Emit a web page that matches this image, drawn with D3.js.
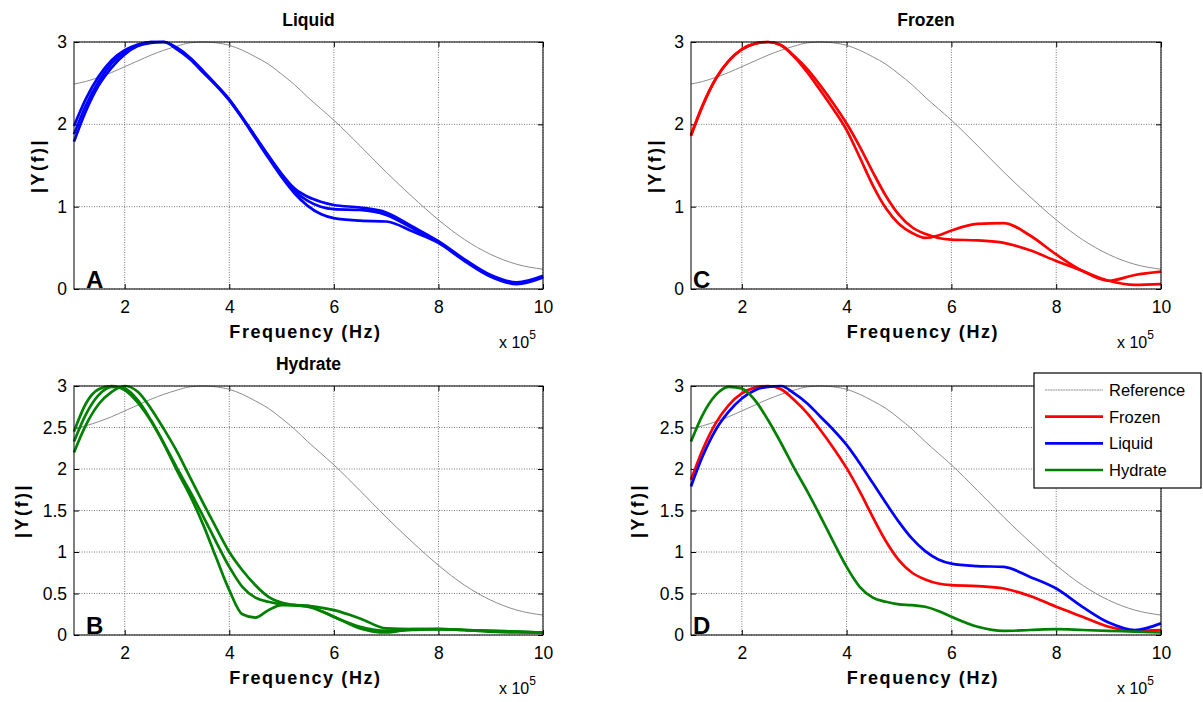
<!DOCTYPE html>
<html>
<head>
<meta charset="utf-8">
<script src="https://cdn.jsdelivr.net/npm/d3@7"></script>
<style>
  html, body { margin: 0; padding: 0; background: #fff; }
  svg { display: block; }
  text { font-family: Arial, "Liberation Sans", sans-serif; fill: #000; }
</style>
</head>
<body>
<svg id="chart" width="1203" height="702"></svg>
<script>
// ---------- data (frequency in units of 1e5 Hz) ----------
const freq = [1.03, 1.25, 1.5, 1.75, 2, 2.25, 2.5, 2.75, 3, 3.25, 3.5, 3.75, 4, 4.25, 4.5, 4.75, 5, 5.25, 5.5, 5.75, 6,
              6.5, 7, 7.5, 8, 8.5, 9, 9.5, 10];

const referenceCurve = [2.49, 2.52, 2.57, 2.63, 2.7, 2.77, 2.84, 2.9, 2.95, 2.99, 3.0, 2.99, 2.96, 2.9, 2.82, 2.73, 2.61, 2.48, 2.33, 2.19, 2.05,
                        1.74, 1.42, 1.12, 0.84, 0.6, 0.42, 0.3, 0.24];

const liquid1 = [1.98, 2.3, 2.58, 2.78, 2.9, 2.97, 3.0, 3.0, 2.93, 2.81, 2.65, 2.48, 2.3, 2.08, 1.85, 1.62, 1.4, 1.22, 1.12, 1.06, 1.02,
                 0.99, 0.93, 0.76, 0.58, 0.36, 0.17, 0.08, 0.16];
const liquid2 = [1.88, 2.22, 2.52, 2.74, 2.88, 2.96, 3.0, 3.0, 2.92, 2.8, 2.64, 2.48, 2.3, 2.08, 1.85, 1.61, 1.39, 1.19, 1.07, 1.0, 0.97,
                 0.96, 0.9, 0.74, 0.57, 0.35, 0.16, 0.07, 0.15];
const liquid3 = [1.79, 2.15, 2.47, 2.69, 2.85, 2.95, 2.99, 3.0, 2.91, 2.79, 2.63, 2.47, 2.29, 2.07, 1.83, 1.59, 1.36, 1.16, 1.01, 0.91, 0.86,
                 0.83, 0.82, 0.7, 0.56, 0.34, 0.15, 0.06, 0.14];

const frozen1 = [1.86, 2.22, 2.55, 2.77, 2.91, 2.98, 3.0, 2.96, 2.82, 2.63, 2.41, 2.18, 1.93, 1.6, 1.26, 0.98, 0.79, 0.68, 0.62, 0.65, 0.71,
                 0.79, 0.8, 0.65, 0.42, 0.22, 0.1, 0.17, 0.21];
const frozen2 = [1.87, 2.23, 2.55, 2.77, 2.91, 2.98, 3.0, 2.96, 2.83, 2.67, 2.47, 2.25, 2.01, 1.73, 1.42, 1.13, 0.9, 0.75, 0.67, 0.62, 0.6,
                 0.59, 0.56, 0.47, 0.34, 0.22, 0.1, 0.05, 0.06];

const hydrate1 = [2.45, 2.78, 2.96, 3.0, 2.95, 2.8, 2.58, 2.3, 1.98, 1.68, 1.33, 0.93, 0.54, 0.25, 0.21, 0.3, 0.36, 0.36, 0.35, 0.29, 0.22,
                  0.08, 0.03, 0.07, 0.07, 0.06, 0.04, 0.03, 0.03];
const hydrate2 = [2.33, 2.65, 2.89, 2.99, 2.97, 2.83, 2.59, 2.31, 2.01, 1.73, 1.43, 1.12, 0.82, 0.58, 0.45, 0.4, 0.37, 0.36, 0.34, 0.29, 0.22,
                  0.1, 0.05, 0.06, 0.07, 0.06, 0.05, 0.04, 0.03];
const hydrate3 = [2.2, 2.52, 2.78, 2.93, 3.0, 2.93, 2.73, 2.48, 2.21, 1.9, 1.59, 1.29, 1.0, 0.78, 0.6, 0.46, 0.39, 0.36, 0.35, 0.33, 0.3,
                  0.2, 0.08, 0.07, 0.07, 0.06, 0.05, 0.04, 0.03];

const xTicks = [2, 4, 6, 8, 10];
const yTicksTop = [0, 1, 2, 3];
const yTicksBottom = [0, 0.5, 1, 1.5, 2, 2.5, 3];

const legendNames = ["Reference", "Frozen", "Liquid", "Hydrate"];
const COLORS = { ref: "#8c8c8c", frozen: "#ff0000", liquid: "#0000ff", hydrate: "#008000" };

// ---------- panels ----------
const panels = [
  { title: "Liquid", letter: "A", box: [74, 543, 42, 289], yTicks: yTicksTop, ylabX: 38,
    series: [[liquid1, COLORS.liquid], [liquid2, COLORS.liquid], [liquid3, COLORS.liquid]] },
  { title: "Frozen", letter: "C", box: [691, 1161, 42, 289], yTicks: yTicksTop, ylabX: 655,
    series: [[frozen1, COLORS.frozen], [frozen2, COLORS.frozen]] },
  { title: "Hydrate", letter: "B", box: [74, 543, 386, 635], yTicks: yTicksBottom, ylabX: 22,
    series: [[hydrate1, COLORS.hydrate], [hydrate2, COLORS.hydrate], [hydrate3, COLORS.hydrate]] },
  { title: "", letter: "D", box: [691, 1161, 386, 635], yTicks: yTicksBottom, ylabX: 638, legend: true,
    series: [[frozen2, COLORS.frozen], [liquid3, COLORS.liquid], [hydrate2, COLORS.hydrate]] }
];

const svg = d3.select("#chart");

panels.forEach(p => {
  const [x0, x1, y0, y1] = p.box;
  const x = d3.scaleLinear().domain([1.03, 10]).range([x0, x1]);
  const y = d3.scaleLinear().domain([0, 3]).range([y1, y0]);
  const g = svg.append("g");

  // grid
  g.selectAll(".gx").data(xTicks).enter().append("line")
    .attr("x1", d => x(d)).attr("x2", d => x(d)).attr("y1", y0).attr("y2", y1)
    .attr("stroke", "#555").attr("stroke-width", 0.8).attr("stroke-dasharray", "1,1.5");
  g.selectAll(".gy").data(p.yTicks).enter().append("line")
    .attr("x1", x0).attr("x2", x1).attr("y1", d => y(d)).attr("y2", d => y(d))
    .attr("stroke", "#555").attr("stroke-width", 0.8).attr("stroke-dasharray", "1,1.5");

  // axes (bottom / left with inward ticks) + mirrored top/right
  const xb = g.append("g").attr("transform", `translate(0,${y1})`)
    .call(d3.axisBottom(x).tickValues(xTicks).tickSizeInner(-5).tickSizeOuter(0).tickPadding(12).tickFormat(d3.format("d")));
  const xt = g.append("g").attr("transform", `translate(0,${y0})`)
    .call(d3.axisTop(x).tickValues(xTicks).tickSizeInner(-5).tickSizeOuter(0).tickFormat(""));
  const yl = g.append("g").attr("transform", `translate(${x0},0)`)
    .call(d3.axisLeft(y).tickValues(p.yTicks).tickSizeInner(-5).tickSizeOuter(0).tickPadding(7)
      .tickFormat(d => d3.format("~g")(d)));
  const yr = g.append("g").attr("transform", `translate(${x1},0)`)
    .call(d3.axisRight(y).tickValues(p.yTicks).tickSizeInner(-5).tickSizeOuter(0).tickFormat(""));
  [xb, xt, yl, yr].forEach(a => {
    a.select(".domain").remove();
    a.selectAll("line").attr("stroke", "#000");
    a.selectAll("text").attr("font-size", 17.5).attr("font-family", "Arial, 'Liberation Sans', sans-serif").attr("fill", "#000");
  });
  xb.selectAll("text").attr("dy", "0.71em");

  // curves
  const line = d3.line().x((d, i) => x(freq[i])).y(d => y(d)).curve(d3.curveMonotoneX);
  g.append("path").datum(referenceCurve).attr("d", line)
    .attr("fill", "none").attr("stroke", COLORS.ref).attr("stroke-width", 1);
  p.series.forEach(([vals, col]) => {
    g.append("path").datum(vals).attr("d", line)
      .attr("fill", "none").attr("stroke", col).attr("stroke-width", 2.7).attr("stroke-linejoin", "round");
  });

  // box
  g.append("rect").attr("x", x0).attr("y", y0).attr("width", x1 - x0).attr("height", y1 - y0)
    .attr("fill", "none").attr("stroke", "#000").attr("stroke-width", 1);

  // letter
  g.append("text").attr("x", x0 + (p.letter === "C" || p.letter === "D" ? 2 : 12)).attr("y", y1 - 1)
    .attr("font-size", 24).attr("font-weight", "bold").text(p.letter);

  // title
  if (p.title) {
    g.append("text").attr("x", (x0 + x1) / 2).attr("y", y0 - 16).attr("text-anchor", "middle")
      .attr("font-size", 17.5).attr("font-weight", "bold").text(p.title);
  }

  // x label
  g.append("text").attr("x", (x0 + x1) / 2 - 3).attr("y", y1 + 49).attr("text-anchor", "middle")
    .attr("font-size", 18).attr("font-weight", "bold").attr("letter-spacing", 1.6).text("Frequency (Hz)");

  // exponent
  const ex = g.append("text").attr("x", x1 - 44).attr("y", y1 + 59).attr("font-size", 16);
  ex.append("tspan").text("x 10");
  ex.append("tspan").attr("dy", -9).attr("font-size", 12).text("5");

  // y label
  g.append("text").attr("transform", `translate(${p.ylabX + 6},${(y0 + y1) / 2}) rotate(-90)`)
    .attr("text-anchor", "middle").attr("font-size", 18).attr("font-weight", "bold")
    .attr("letter-spacing", 2.5).text("|Y(f)|");

  // legend
  if (p.legend) {
    const lg = svg.append("g");
    lg.append("rect").attr("x", 1034).attr("y", 373).attr("width", 167).attr("height", 115)
      .attr("fill", "#fff").attr("stroke", "#000").attr("stroke-width", 1.2);
    const legCols = [COLORS.ref, COLORS.frozen, COLORS.liquid, COLORS.hydrate];
    const rowY = d3.scalePoint().domain(legendNames).range([390, 470]);
    legendNames.forEach((n, i) => {
      lg.append("line").attr("x1", 1045).attr("x2", 1103).attr("y1", rowY(n)).attr("y2", rowY(n))
        .attr("stroke", legCols[i]).attr("stroke-width", i === 0 ? 1 : 2.7)
        .attr("stroke-dasharray", i === 0 ? "2,0.6" : null);
      lg.append("text").attr("x", 1109).attr("y", rowY(n) + 6).attr("font-size", 16.5).text(n);
    });
  }
});
</script>
</body>
</html>
